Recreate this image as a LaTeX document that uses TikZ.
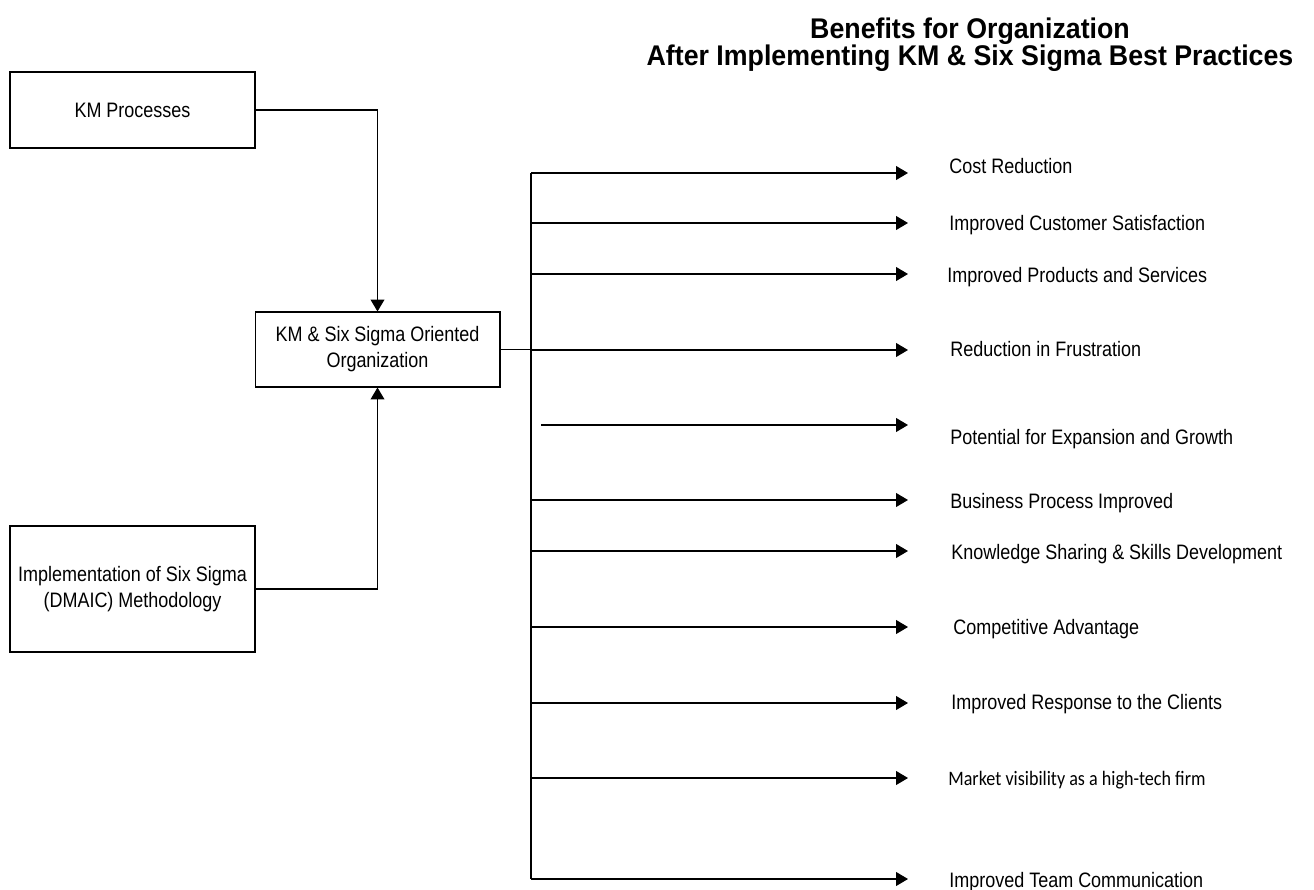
\documentclass[tikz,border=0pt]{standalone}
\usepackage{fontspec}
\setmainfont{Liberation Sans}[FakeStretch=0.86]
\newfontfamily\titlefont{Liberation Sans}[FakeStretch=0.94]
\newfontfamily\calfont{Carlito}[FakeStretch=0.88]
\usetikzlibrary{arrows.meta,positioning,calc}

\begin{document}
\begin{tikzpicture}[x=0.02cm,y=-0.02cm,
  box/.style={draw,line width=0.6pt,minimum width=4.9cm,align=center,inner sep=0pt,font=\fontsize{11.9}{14.7}\selectfont},
  lbl/.style={anchor=base west,inner sep=0pt,font=\fontsize{11.9}{14.7}\selectfont},
  ttl/.style={anchor=base,inner sep=0pt,font=\titlefont\bfseries\fontsize{16.2}{19}\selectfont},
  arr/.style={line width=0.6pt,-{Triangle[length=6.8pt,width=7.9pt]}}]
\useasboundingbox (0,0) rectangle (1314,889);
\node[ttl] (ttl1) at (970,38) {Benefits for Organization};
\node[ttl] (ttl2) at (970,65) {After Implementing KM \& Six Sigma Best Practices};
\node[box,minimum height=1.52cm] (kmp) at (132.5,110) {KM Processes};
\node[box,minimum height=1.5cm] (org) at (377.5,349.5) {KM \& Six Sigma Oriented\\Organization};
\node[box,minimum height=2.52cm] (impl) at (132.5,589) {Implementation of Six Sigma\\(DMAIC) Methodology};
\draw[arr] (kmp.east) -| (org.north);
\draw[arr] (impl.east) -| (org.south);
\coordinate (top) at (531,173);
\coordinate (bot) at (531,879);
\draw[line width=0.9pt] (top) -- (bot);
\draw[line width=0.6pt] (org.east) -- (org.east -| top);
\foreach \ya/\yb/\xs/\xl/\txt [count=\i] in {
  173/173/531/949/Cost Reduction,
  223/230/531/949/Improved Customer Satisfaction,
  274/282/531/947/Improved Products and Services,
  350/356/531/950/Reduction in Frustration,
  425/444/541/950/Potential for Expansion and Growth,
  500/508/531/950/Business Process Improved,
  551/559/531/951/Knowledge Sharing \& Skills Development,
  627/634/531/953/Competitive Advantage,
  703/709/531/951/Improved Response to the Clients,
  778/785/531/948/{\calfont\fontsize{11.7}{14}\selectfont Market visibility as a high-tech firm},
  879/887/531/949/Improved Team Communication}{
  \coordinate (s\i) at (\xs,\ya);
  \coordinate (e\i) at (908,\ya);
  \node[lbl] (b\i) at (\xl,\yb) {\txt};
  \draw[arr] (s\i) -- (e\i);
}
\end{tikzpicture}
\end{document}
